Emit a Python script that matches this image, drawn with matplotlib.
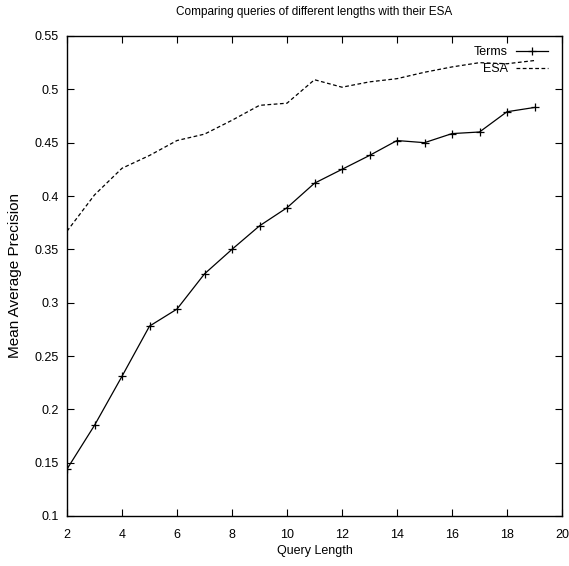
import matplotlib
matplotlib.use("Agg")
import matplotlib.pyplot as plt

query_length = [2, 3, 4, 5, 6, 7, 8, 9, 10, 11, 12, 13, 14, 15, 16, 17, 18, 19]
terms_map = [0.144, 0.185, 0.231, 0.278, 0.294, 0.327, 0.350, 0.372, 0.389, 0.412,
             0.425, 0.438, 0.452, 0.450, 0.4585, 0.460, 0.479, 0.483]
esa_map = [0.367, 0.401, 0.426, 0.438, 0.452, 0.458, 0.471, 0.485, 0.487, 0.509,
           0.502, 0.507, 0.510, 0.516, 0.521, 0.525, 0.524, 0.527]
x_ticks = [2, 4, 6, 8, 10, 12, 14, 16, 18, 20]
y_ticks = [0.1, 0.15, 0.2, 0.25, 0.3, 0.35, 0.4, 0.45, 0.5, 0.55]
y_tick_labels = ["0.1", "0.15", "0.2", "0.25", "0.3", "0.35", "0.4", "0.45", "0.5", "0.55"]

plt.rcParams['font.family'] = ['Liberation Sans', 'DejaVu Sans']

fig = plt.figure(figsize=(5.69, 5.66), dpi=100)
ax = fig.add_axes([67/569, 1-516/566, (562-67)/569, (516-36)/566])

ax.plot(query_length, terms_map, color='black', lw=0.9, marker='+', ms=6, mew=0.9, label='Terms')
ax.plot(query_length, esa_map, color='black', lw=0.9, dashes=(3, 2), label='ESA')

ax.set_xlim(2, 20)
ax.set_ylim(0.1, 0.55)
ax.set_xticks(x_ticks)
ax.set_yticks(y_ticks)
ax.set_yticklabels(y_tick_labels)
ax.tick_params(direction='in', top=True, right=True, length=5, width=0.8, labelsize=9)
ax.tick_params(axis='y', pad=6)
ax.tick_params(axis='x', pad=9)
for s in ax.spines.values():
    s.set_linewidth(1.0)

ax.set_xlabel('Query Length', fontsize=9, labelpad=3)
ax.set_ylabel('Mean Average Precision', fontsize=11, labelpad=9)
fig.text((67+562)/2/569, 1-12/566, 'Comparing queries of different lengths with their ESA',
         ha='center', va='center', fontsize=8.5)

ax.legend(loc='upper right', frameon=False, markerfirst=False, fontsize=9,
          handlelength=2.6, labelspacing=0.4, borderaxespad=0.0, handletextpad=0.6,
          borderpad=0.0, bbox_to_anchor=(1 - 14/495, 1 - 10/480))

fig.savefig('out.png', dpi=100)
